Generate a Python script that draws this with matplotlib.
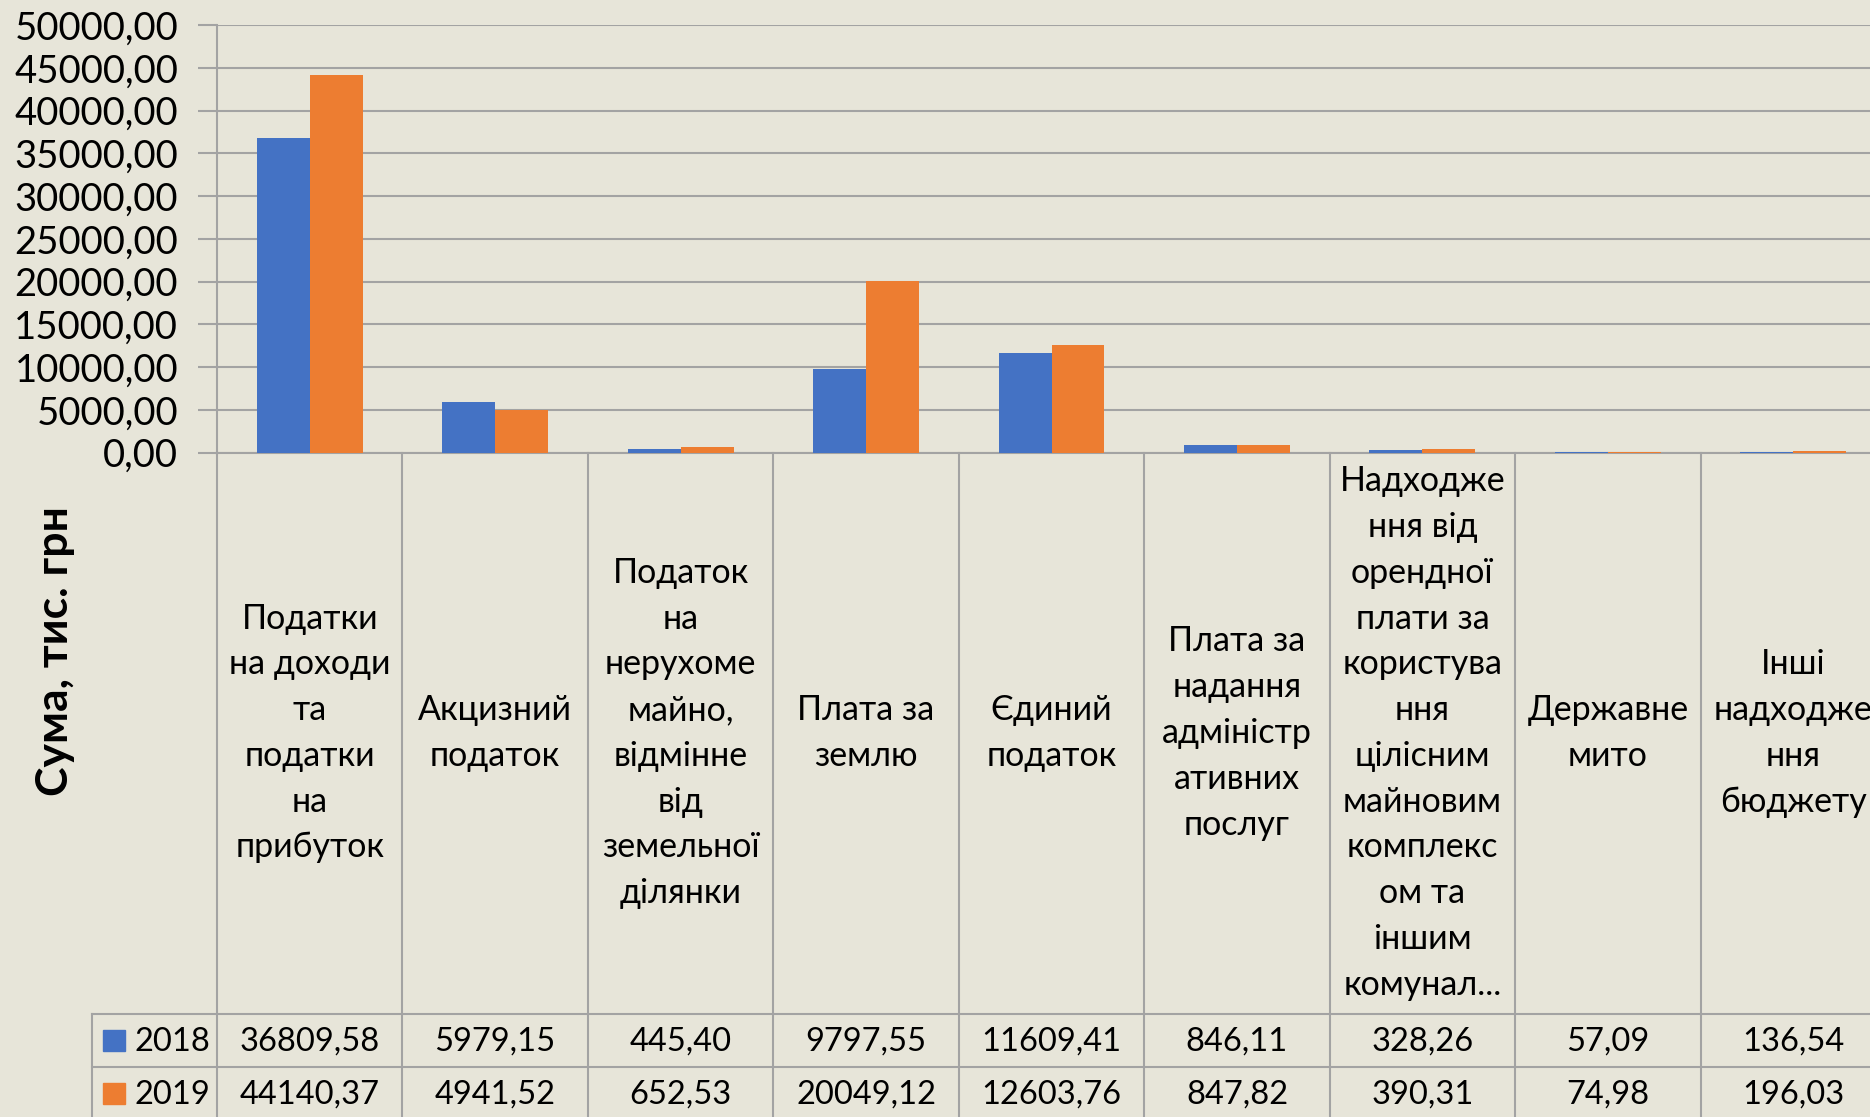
import matplotlib

matplotlib.use("Agg")

import matplotlib.pyplot as plt  # noqa: E402
import numpy as np  # noqa: E402
from matplotlib.lines import Line2D  # noqa: E402
from matplotlib.patches import Rectangle  # noqa: E402
from matplotlib.ticker import FuncFormatter, MultipleLocator  # noqa: E402
from matplotlib.transforms import blended_transform_factory  # noqa: E402

# Categories as wrapped in the chart's data table (Excel-style word breaks).
categories = [
    "Податки\nна доходи\nта\nподатки\nна\nприбуток",
    "Акцизний\nподаток",
    "Податок\nна\nнерухоме\nмайно,\nвідмінне\nвід\nземельної\nділянки",
    "Плата за\nземлю",
    "Єдиний\nподаток",
    "Плата за\nнадання\nадміністр\nативних\nпослуг",
    "Надходже\nння від\nорендної\nплати за\nкористува\nння\nцілісним\nмайновим\nкомплекс\nом та\nіншим\nкомунал...",
    "Державне\nмито",
    "Інші\nнадходже\nння\nбюджету",
]
years = ["2018", "2019"]
values_2018 = [36809.58, 5979.15, 445.40, 9797.55, 11609.41, 846.11, 328.26, 57.09, 136.54]
values_2019 = [44140.37, 4941.52, 652.53, 20049.12, 12603.76, 847.82, 390.31, 74.98, 196.03]
series_colors = ["#4472C4", "#ED7D31"]
y_label = "Сума, тис. грн"

W, H = 1870, 1117
BG = "#E7E5D9"
GRID = "#A3A3A3"
LW = 1.5

plt.rcParams["font.family"] = ["Lato", "DejaVu Sans"]


def fx(px):
    return px / W


def fy(px):
    """Pixel row (from top) -> figure fraction."""
    return 1 - px / H


def fmt(v):
    return f"{v:.2f}".replace(".", ",")


fig = plt.figure(figsize=(W / 100, H / 100), dpi=100, facecolor=BG)
# axes run a bit past the right edge, like the cropped original
ax = fig.add_axes([fx(217), fy(452.7), fx(1886) - fx(217), (452.7 - 25) / H])
ax.set_facecolor(BG)

x = np.arange(len(categories))
bw = 1 / 3.5  # Excel gap width 150%
for k, (vals, col) in enumerate(zip([values_2018, values_2019], series_colors)):
    ax.bar(x + (k - 0.5) * bw, vals, bw, color=col, zorder=3)

ax.set_xlim(-0.5, len(categories) - 0.5)
ax.set_ylim(0, 50000)
ax.yaxis.set_major_locator(MultipleLocator(5000))
ax.yaxis.set_major_formatter(FuncFormatter(lambda v, _: fmt(v)))
ax.grid(axis="y", color=GRID, lw=LW, zorder=0)
ax.set_xticks([])
ax.tick_params(axis="y", length=14, width=LW, color=GRID, pad=14, labelsize=27.5)
for s in ("top", "right"):
    ax.spines[s].set_visible(False)
for s in ("left", "bottom"):
    ax.spines[s].set_color(GRID)
    ax.spines[s].set_linewidth(LW)

# data table underneath the plot
tr = blended_transform_factory(ax.transData, fig.transFigure)
for b in np.arange(len(categories) + 1) - 0.5:
    ax.plot([b, b], [fy(452.7), fy(H + 5)], transform=tr, clip_on=False,
            color=GRID, lw=LW, zorder=1)
for row_y in (1014, 1067):
    fig.add_artist(Line2D([fx(92), 1.0], [fy(row_y), fy(row_y)],
                          transform=fig.transFigure, color=GRID, lw=LW))
fig.add_artist(Line2D([fx(92), fx(92)], [fy(1014), fy(H + 5)],
                      transform=fig.transFigure, color=GRID, lw=LW))

for i, cat in enumerate(categories):
    ax.text(i, fy(733), cat, transform=tr, ha="center", va="center",
            fontsize=24.5, linespacing=1.53, clip_on=False)

for r, (yr, vals, col) in enumerate(zip(years, [values_2018, values_2019], series_colors)):
    row_c = 1042 + 53 * r
    fig.add_artist(Rectangle((fx(103), fy(row_c + 9)), fx(22), 21 / H,
                             transform=fig.transFigure, color=col))
    fig.text(fx(134), fy(row_c), yr, ha="left", va="center", fontsize=23.5)
    for i, v in enumerate(vals):
        ax.text(i, fy(row_c), fmt(v), transform=tr, ha="center", va="center",
                fontsize=23.5, clip_on=False)

fig.text(fx(55), fy(651), y_label, rotation=90, ha="center", va="center",
         fontsize=32, fontweight="bold")

fig.savefig("out.png", dpi=100, facecolor=BG)
